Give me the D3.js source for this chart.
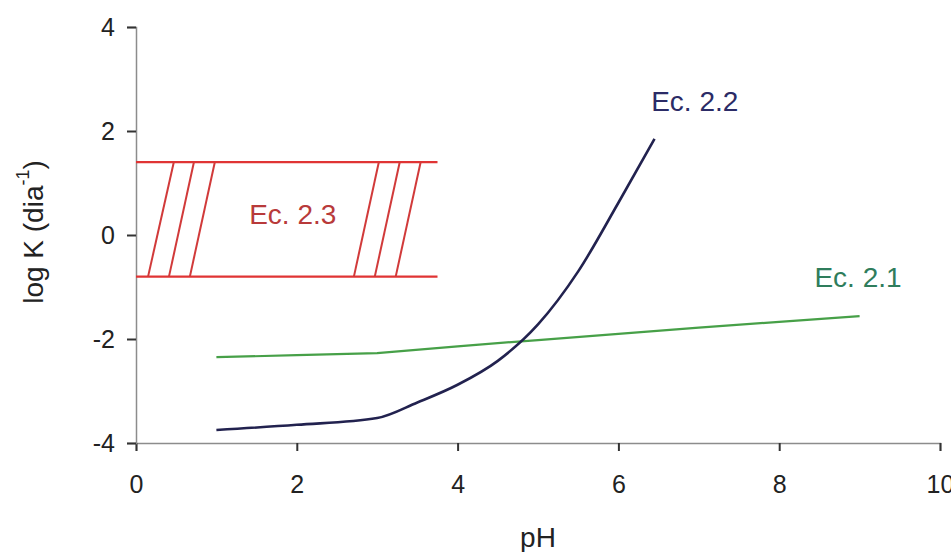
<!DOCTYPE html>
<html><head><meta charset="utf-8">
<script src="https://cdn.jsdelivr.net/npm/d3@7"></script>
<style>body{margin:0;background:#fff}svg{display:block}text{font-family:"Liberation Sans",Arial,sans-serif}</style>
</head><body>
<svg id="chart" width="951" height="552"></svg>
<script>
const xTicks = [0, 2, 4, 6, 8, 10];
const yTicks = [-4, -2, 0, 2, 4];
const ec21_pH = [1, 2, 3, 4, 5, 6, 7, 8, 9];
const ec21_logK = [-2.35, -2.31, -2.27, -2.14, -2.02, -1.90, -1.78, -1.67, -1.56];
const ec22_pH = [1, 2, 3, 3.5, 4, 4.5, 5, 5.5, 6, 6.45];
const ec22_logK = [-3.75, -3.65, -3.52, -3.22, -2.88, -2.42, -1.72, -0.70, 0.62, 1.85];
const ec23_range = {pHmin: 0, pHmax: 3.75, top: 1.4, bottom: -0.8};
const ec23_hatchBottom = [0.15, 0.41, 0.67, 2.71, 2.97, 3.23];
const ec23_hatchTop = [0.47, 0.72, 0.98, 3.02, 3.28, 3.54];
const labels = [
  {text: "Ec. 2.1", pH: 8.98, logK: -0.81, color: "#2f7d5c"},
  {text: "Ec. 2.2", pH: 6.95, logK: 2.56, color: "#2b2b66"},
  {text: "Ec. 2.3", pH: 1.95, logK: 0.385, color: "#b83a3a"}
];

const svg = d3.select("#chart");
const x = d3.scaleLinear().domain([0, 10]).range([136, 940]);
const y = d3.scaleLinear().domain([-4, 4]).range([443, 27]);
const axisColor = "#8c8c8c";
const fmt = d => String(d); // hyphen-minus like the reference

// axes
const gx = svg.append("g").attr("transform", `translate(0,${y(-4)})`)
  .call(d3.axisBottom(x).tickValues(xTicks).tickSize(8).tickPadding(24).tickFormat(fmt));
const gy = svg.append("g").attr("transform", `translate(${x(0)},0)`)
  .call(d3.axisLeft(y).tickValues(yTicks).tickSize(9).tickPadding(12).tickFormat(fmt));
[gx, gy].forEach(g => {
  g.select(".domain").attr("stroke", axisColor).attr("stroke-width", 1.5);
  g.selectAll(".tick line").attr("stroke", "#333").attr("stroke-width", 2);
  g.selectAll(".tick text").attr("fill", "#222").style("font-size", "25px");
});

// Ec 2.3 band
const red = "#e03434";
svg.append("g").selectAll("line.h").data([ec23_range.top, ec23_range.bottom]).join("line")
  .attr("x1", x(ec23_range.pHmin)).attr("x2", x(ec23_range.pHmax))
  .attr("y1", d => y(d)).attr("y2", d => y(d))
  .attr("stroke", red).attr("stroke-width", 2.2);
svg.append("g").selectAll("line.d").data(d3.range(ec23_hatchBottom.length)).join("line")
  .attr("x1", i => x(ec23_hatchBottom[i])).attr("y1", y(ec23_range.bottom))
  .attr("x2", i => x(ec23_hatchTop[i])).attr("y2", y(ec23_range.top))
  .attr("stroke", "#d13a3a").attr("stroke-width", 2);

// lines
const line = d3.line().x(d => x(d[0])).y(d => y(d[1]));
svg.append("path").datum(ec21_pH.map((p, i) => [p, ec21_logK[i]]))
  .attr("d", line.curve(d3.curveLinear)).attr("fill", "none").attr("stroke", "#47a048").attr("stroke-width", 2.2);
svg.append("path").datum(ec22_pH.map((p, i) => [p, ec22_logK[i]]))
  .attr("d", line.curve(d3.curveMonotoneX)).attr("fill", "none").attr("stroke", "#22224f").attr("stroke-width", 2.6);

// labels
svg.append("g").selectAll("text").data(labels).join("text")
  .attr("x", d => x(d.pH)).attr("y", d => y(d.logK)).attr("text-anchor", "middle").attr("dominant-baseline", "central")
  .attr("fill", d => d.color).style("font-size", "28px").text(d => d.text);

// axis titles
svg.append("text").attr("x", x(5)).attr("y", 547).attr("text-anchor", "middle")
  .attr("fill", "#222").style("font-size", "28px").text("pH");
const yt = svg.append("text").attr("transform", `translate(33,${y(0) - 3}) rotate(-90)`).attr("text-anchor", "middle")
  .attr("dominant-baseline", "central").attr("fill", "#222").style("font-size", "28px");
yt.append("tspan").text("log K (dia");
yt.append("tspan").attr("dy", -10).style("font-size", "18px").text("-1");
yt.append("tspan").attr("dy", 10).text(")");
</script>
</body></html>
